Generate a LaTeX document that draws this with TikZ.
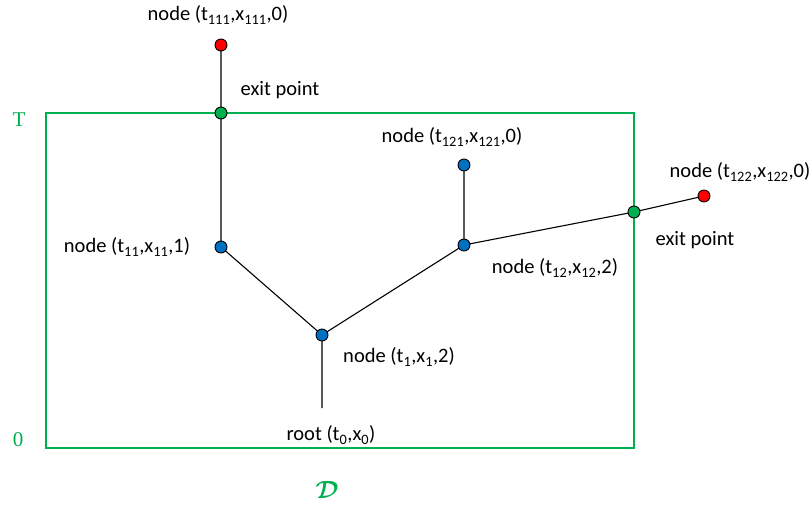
\documentclass[tikz,border=0pt]{standalone}
\usepackage{amsmath}
\usepackage{fontspec}
\setmainfont{Carlito}
\newfontfamily\serifont{Liberation Serif}
\usepackage{xcolor}
\usetikzlibrary{positioning}
\definecolor{exitgreen}{RGB}{0,176,80}
\definecolor{nodeblue}{RGB}{0,112,192}
\definecolor{leafred}{RGB}{255,0,0}

\begin{document}
\begin{tikzpicture}[x=1pt, y=-1pt, font=\fontsize{20.5}{24}\selectfont,
    dot/.style={circle, draw=black, line width=0.9pt, fill=#1, inner sep=0pt, minimum size=12pt}]
    \useasboundingbox (0,0) rectangle (812,506);
    % Miền D
    \draw[exitgreen, line width=1.3pt] (46,113) rectangle (634,448);
    \node[exitgreen, font=\fontsize{21}{24}\serifont] (lblT) at (19,120) {T};
    \node[exitgreen, font=\fontsize{21}{24}\serifont] (lbl0) at (18,440) {0};
    \node[exitgreen, font=\fontsize{27}{30}\selectfont] (lblD) at (327,490) {$\boldsymbol{\mathcal{D}}$};

    % Các đỉnh của cây
    \coordinate (r0) at (322,408);
    \coordinate (n1) at (322,335);
    \coordinate (n11) at (221,247);
    \coordinate (e1) at (221,113);
    \coordinate (n111) at (221,45);
    \coordinate (n12) at (464,245);
    \coordinate (n121) at (464,165);
    \coordinate (e2) at (634,212);
    \coordinate (n122) at (704,196);

    % Các cạnh
    \draw[line width=1.1pt] (r0) -- (n1) -- (n11) -- (e1) -- (n111);
    \draw[line width=1.1pt] (n1) -- (n12) -- (n121);
    \draw[line width=1.1pt] (n12) -- (e2) -- (n122);

    % Đánh dấu các điểm
    \node[dot=nodeblue] at (n1) {};
    \node[dot=nodeblue] at (n11) {};
    \node[dot=nodeblue] at (n12) {};
    \node[dot=nodeblue] at (n121) {};
    \node[dot=exitgreen] at (e1) {};
    \node[dot=exitgreen] at (e2) {};
    \node[dot=leafred] at (n111) {};
    \node[dot=leafred] at (n122) {};

    % Nhãn
    \node (lbl111) at (218,15) {node (t\textsubscript{111},x\textsubscript{111},0)};
    \node (lble1) at (280,90) {exit point};
    \node (lbl121) at (452,137) {node (t\textsubscript{121},x\textsubscript{121},0)};
    \node (lbl122) at (740,172) {node (t\textsubscript{122},x\textsubscript{122},0)};
    \node (lble2) at (695,240) {exit point};
    \node (lbl11) at (127,247) {node (t\textsubscript{11},x\textsubscript{11},1)};
    \node (lbl12) at (555,268) {node (t\textsubscript{12},x\textsubscript{12},2)};
    \node (lbl1) at (399,357) {node (t\textsubscript{1},x\textsubscript{1},2)};
    \node (lblr) at (331,435) {root (t\textsubscript{0},x\textsubscript{0})};
\end{tikzpicture}
\end{document}
